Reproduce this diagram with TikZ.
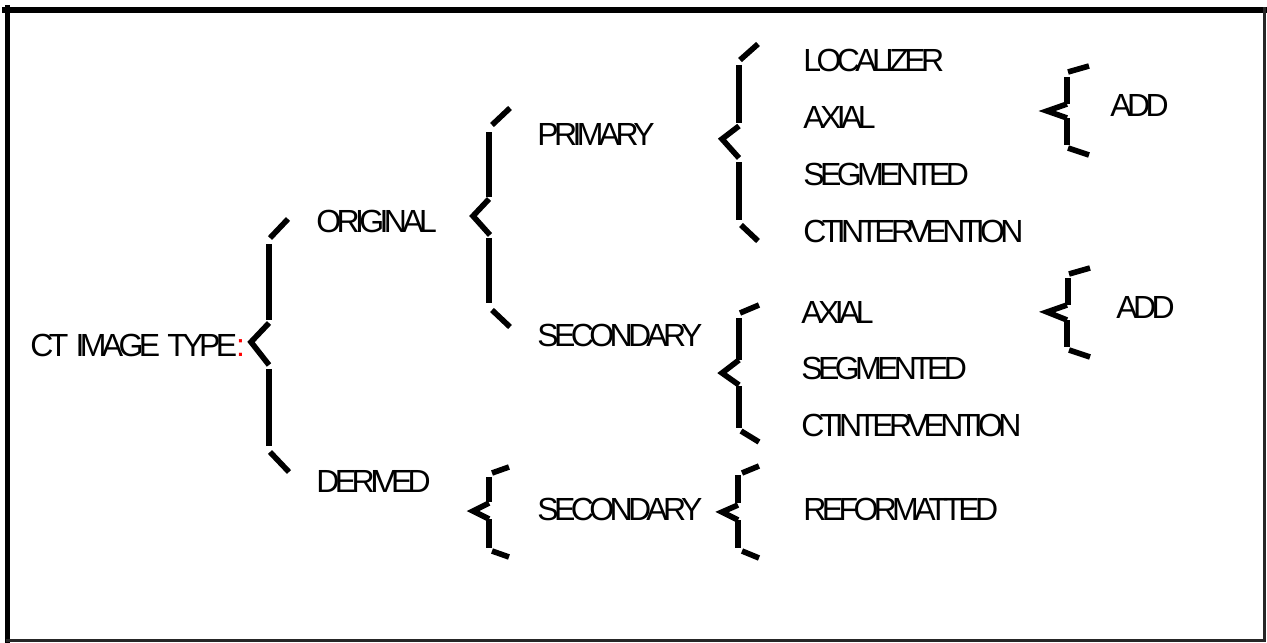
\documentclass[tikz,border=0pt]{standalone}
\usepackage{fontspec}
\setmainfont{Liberation Sans}[LetterSpace=-14.5]
\begin{document}
\begin{tikzpicture}[x=0.5pt,y=-0.5pt,
  lbl/.style={anchor=base west, inner sep=0pt, font=\fontsize{16}{18}\selectfont},
  bst/.style={line width=2.8pt, line cap=butt, line join=miter},
  frm/.style={line cap=rect}]
\useasboundingbox (0,0) rectangle (1267,642);
% frame
\draw[frm, line width=3pt] (5,10) -- (1265,10);
\draw[frm, line width=2.6pt] (7.5,8) -- (7.5,640);
\draw[frm, line width=1.5pt, black!85] (1264.5,9) -- (1264.5,640.5);
\draw[frm, line width=1.5pt, black!85] (7,640.5) -- (1264.5,640.5);
% labels
\node[lbl] (ct) at (30,356) {CT\hspace{1.5pt} IMAGE\hspace{1.5pt} TYPE\kern-0.5pt\textcolor{red}{:}};
\node[lbl] (orig) at (316,232) {ORIGINAL};
\node[lbl] (der) at (316,492) {DERIVED};
\node[lbl] (prim) at (537,145) {PRIMARY};
\node[lbl] (sec1) at (537,346) {SECONDARY};
\node[lbl] (sec2) at (537,520) {SECONDARY};
\node[lbl] (loc) at (803,72) {LOCALIZER};
\node[lbl] (ax1) at (803,128) {AXIAL};
\node[lbl] (seg1) at (803,185) {SEGMENTED};
\node[lbl] (cti1) at (803,242) {CTINTERVENTION};
\node[lbl] (ax2) at (801,323) {AXIAL};
\node[lbl] (seg2) at (801,379) {SEGMENTED};
\node[lbl] (cti2) at (801,436) {CTINTERVENTION};
\node[lbl] (add1) at (1110,117) {ADD};
\node[lbl] (add2) at (1116,318) {ADD};
\node[lbl] (ref) at (803,520) {REFORMATTED};
% brace: CT IMAGE TYPE
\draw[bst] (270,238) -- (288,219);
\draw[bst] (269,244) -- (269,320);
\draw[bst] (269,323) -- (251,342) -- (269,365);
\draw[bst] (269,369) -- (269,446);
\draw[bst] (270,452) -- (289,472);
% brace: ORIGINAL
\draw[bst] (492,125) -- (510,108);
\draw[bst] (489,132) -- (489,197);
\draw[bst] (489,199) -- (473,216) -- (490,235);
\draw[bst] (489,238) -- (489,303);
\draw[bst] (492,310) -- (510,327);
% brace: PRIMARY
\draw[bst] (740,60) -- (758,44);
\draw[bst] (739,65) -- (739,123);
\draw[bst] (739,126) -- (722,139) -- (739,158);
\draw[bst] (739,162) -- (739,220);
\draw[bst] (741,225) -- (758,241);
% brace: ADD upper
\draw[bst] (1068,72) -- (1089,66);
\draw[bst] (1067,77) -- (1067,104);
\draw[bst] (1067,104) -- (1047,111) -- (1067,118);
\draw[bst] (1067,118) -- (1067,145);
\draw[bst] (1068,148) -- (1089,155);
% brace: ADD lower
\draw[bst] (1069,274) -- (1090,268);
\draw[bst] (1068,278) -- (1068,305);
\draw[bst] (1067,305) -- (1047,312) -- (1067,320);
\draw[bst] (1067,320) -- (1067,347);
\draw[bst] (1069,350) -- (1090,357);
% brace: SECONDARY upper
\draw[bst] (740,313) -- (759,305);
\draw[bst] (739,318) -- (739,360);
\draw[bst] (739,360) -- (722,373) -- (739,385);
\draw[bst] (739,386) -- (739,428);
\draw[bst] (741,431) -- (759,442);
% brace: DERIVED
\draw[bst] (492,473) -- (509,467);
\draw[bst] (489,477) -- (489,502);
\draw[bst] (489,503) -- (473,511) -- (489,519);
\draw[bst] (489,519) -- (489,548);
\draw[bst] (492,551) -- (509,557);
% brace: SECONDARY lower
\draw[bst] (742,473) -- (759,466);
\draw[bst] (738,475) -- (738,503);
\draw[bst] (738,505) -- (722,512) -- (738,520);
\draw[bst] (738,520) -- (738,548);
\draw[bst] (742,551) -- (759,558);
\end{tikzpicture}
\end{document}
